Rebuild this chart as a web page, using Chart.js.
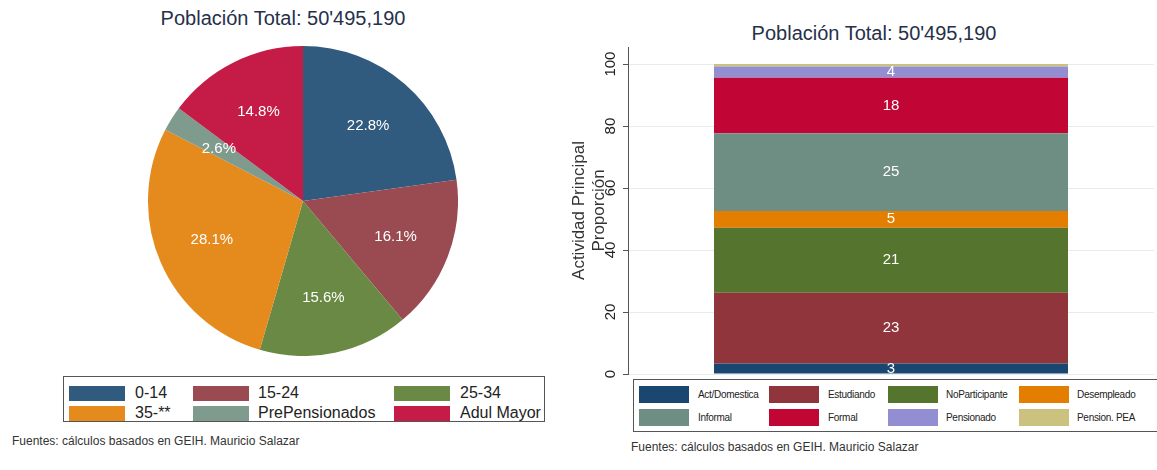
<!DOCTYPE html>
<html>
<head>
<meta charset="utf-8">
<script src="https://cdn.jsdelivr.net/npm/chart.js@4"></script>
<style>
	html, body { margin: 0; padding: 0; background: #fff; }
	body { width: 1157px; height: 470px; position: relative; overflow: hidden; font-family: 'Liberation Sans', Arial, sans-serif; }
	.abs { position: absolute; }
	.title { font-size: 20px; color: #26304a; white-space: nowrap; transform: translate(-50%, -50%); }
	.note { font-size: 12px; color: #333; white-space: nowrap; transform: translateY(-50%); }
	.legend { border: 1px solid #555; box-sizing: border-box; background: #fff; }
	.legend .sw { position: absolute; }
	.legend .lb { position: absolute; white-space: nowrap; transform: translateY(-50%); color: #222; }
	#pieWrap { left: 148px; top: 46px; width: 310px; height: 310px; }
	#barWrap { left: 560px; top: 38px; width: 597px; height: 345px; }
</style>
</head>
<body>
<div class="abs title" style="left:283px; top:18px;">Población Total: 50'495,190</div>
<div class="abs title" style="left:874px; top:33px;">Población Total: 50'495,190</div>
<div class="abs" id="pieWrap"><canvas id="pie"></canvas></div>
<div class="abs" id="barWrap"><canvas id="bar"></canvas></div>
<div class="abs legend" id="pieLegend" style="left:63px; top:376px; width:482px; height:46px;"></div>
<div class="abs legend" id="barLegend" style="left:633px; top:379px; width:545px; height:53px;"></div>
<div class="abs note" style="left:12px; top:441px;">Fuentes: cálculos basados en GEIH. Mauricio Salazar</div>
<div class="abs note" style="left:631px; top:447px;">Fuentes: cálculos basados en GEIH. Mauricio Salazar</div>
<script>
// pie: age groups, share of total population (%)
const ageLabels = ['0-14', '15-24', '25-34', '35-**', 'PrePensionados', 'Adul Mayor'];
const ageShares = [22.8, 16.1, 15.6, 28.1, 2.6, 14.8];
const ageColors = ['#315a7f', '#9a4a51', '#6a8944', '#e58b1d', '#7f9b8e', '#c51c47'];

// stacked bar: main activity, proportion (%)
const activityLabels = ['Act/Domestica', 'Estudiando', 'NoParticipante', 'Desempleado', 'Informal', 'Formal', 'Pensionado', 'Pension. PEA'];
const activityShares = [3.4, 22.8, 21.0, 5.4, 25.1, 17.9, 3.6, 0.8];
const activityColors = ['#1a476f', '#90353b', '#55752f', '#e37e00', '#6e8e84', '#c10534', '#938dd2', '#cac27e'];
const yTicks = [0, 20, 40, 60, 80, 100];

// legends are laid out in fixed columns (positions relative to the box)
function buildLegend(el, labels, colors, cols, sw, font, spacing) {
	labels.forEach((label, i) => {
		const c = cols[i % cols.length];
		const rowY = sw.rows[Math.floor(i / cols.length)];
		const box = document.createElement('div');
		box.className = 'sw';
		box.style.cssText = `left:${c.sw}px; top:${rowY - sw.h / 2}px; width:${sw.w}px; height:${sw.h}px; background:${colors[i]};`;
		const txt = document.createElement('div');
		txt.className = 'lb';
		txt.style.cssText = `left:${c.tx}px; top:${rowY}px; font-size:${font}px; letter-spacing:${spacing}px;`;
		txt.textContent = label;
		el.append(box, txt);
	});
}
buildLegend(document.getElementById('pieLegend'), ageLabels, ageColors,
	[{ sw: 5, tx: 71 }, { sw: 129, tx: 194 }, { sw: 330, tx: 396 }],
	{ w: 56, h: 15, rows: [16, 36] }, 16, 0);
buildLegend(document.getElementById('barLegend'), activityLabels, activityColors,
	[{ sw: 5, tx: 64 }, { sw: 135, tx: 194 }, { sw: 254, tx: 312 }, { sw: 385, tx: 443 }],
	{ w: 50, h: 17, rows: [14, 37] }, 10, -0.3);

const pieLabels = {
	id: 'pieLabels',
	afterDatasetsDraw(chart) {
		const { ctx } = chart;
		ctx.save();
		ctx.font = '15px "Liberation Sans", Arial, sans-serif';
		ctx.fillStyle = '#fff';
		ctx.textAlign = 'center';
		ctx.textBaseline = 'middle';
		chart.getDatasetMeta(0).data.forEach((arc, i) => {
			const { x, y, startAngle, endAngle, outerRadius } = arc.getProps(['x', 'y', 'startAngle', 'endAngle', 'outerRadius'], true);
			const mid = (startAngle + endAngle) / 2;
			const r = outerRadius * 0.64;
			ctx.fillText(ageShares[i].toFixed(1) + '%', x + Math.cos(mid) * r, y + Math.sin(mid) * r);
		});
		ctx.restore();
	},
};

new Chart(document.getElementById('pie'), {
	type: 'pie',
	data: {
		labels: ageLabels,
		datasets: [{ data: ageShares, backgroundColor: ageColors, borderWidth: 0 }],
	},
	options: {
		responsive: true,
		maintainAspectRatio: false,
		animation: false,
		layout: { padding: 0 },
		plugins: { legend: { display: false }, tooltip: { enabled: false } },
	},
	plugins: [pieLabels],
});

const barLabels = {
	id: 'barLabels',
	afterDatasetsDraw(chart) {
		const { ctx } = chart;
		ctx.save();
		ctx.font = '15px "Liberation Sans", Arial, sans-serif';
		ctx.fillStyle = '#fff';
		ctx.textAlign = 'center';
		ctx.textBaseline = 'middle';
		chart.data.datasets.forEach((ds, i) => {
			const v = ds.data[0];
			if (v < 2) return;
			const bar = chart.getDatasetMeta(i).data[0];
			const { x, y, base } = bar.getProps(['x', 'y', 'base'], true);
			ctx.fillText(String(Math.round(v)), x, (y + base) / 2);
		});
		ctx.restore();
	},
};

new Chart(document.getElementById('bar'), {
	type: 'bar',
	data: {
		labels: [''],
		datasets: activityLabels.map((label, i) => ({
			label,
			data: [activityShares[i]],
			backgroundColor: activityColors[i],
			borderWidth: 0,
			barPercentage: 1,
			categoryPercentage: 0.673,
		})),
	},
	options: {
		responsive: true,
		maintainAspectRatio: false,
		animation: false,
		layout: { padding: { top: 5, bottom: 0, left: 0, right: 3 } },
		scales: {
			x: { stacked: true, display: false },
			y: {
				stacked: true,
				min: 0,
				max: 105.5,
				afterBuildTicks: scale => { scale.ticks = yTicks.map(value => ({ value })); },
				afterFit: scale => { scale.width = 68; },
				border: { display: true, color: '#555', width: 1 },
				grid: { color: '#e4ecee', tickColor: '#555', tickLength: 5, drawTicks: true },
				ticks: {
					color: '#222',
					font: { size: 15, family: '"Liberation Sans", Arial, sans-serif' },
					minRotation: 90,
					maxRotation: 90,
					crossAlign: 'center',
					padding: 0,
				},
				title: {
					display: true,
					text: ['Actividad Principal', 'Proporción'],
					color: '#333',
					font: { size: 17, family: '"Liberation Sans", Arial, sans-serif', lineHeight: 1.15 },
					padding: { top: 10, bottom: 0 },
				},
			},
		},
		plugins: { legend: { display: false }, tooltip: { enabled: false } },
	},
	plugins: [barLabels],
});
</script>
</body>
</html>
